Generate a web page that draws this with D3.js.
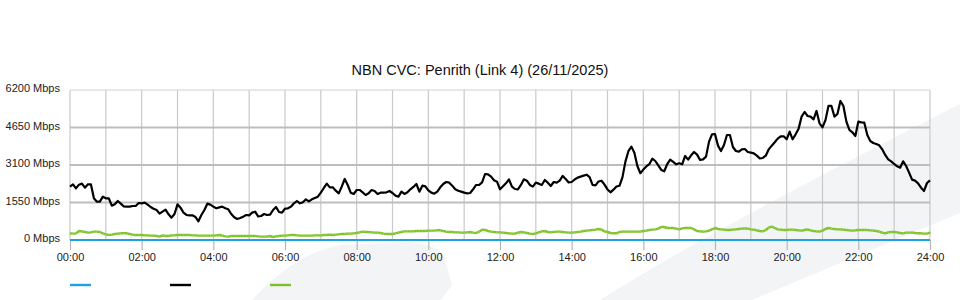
<!DOCTYPE html>
<html>
<head>
<meta charset="utf-8">
<script src="https://cdn.jsdelivr.net/npm/d3@7"></script>
<style>
  html, body { margin: 0; padding: 0; background: #fff; }
  svg { display: block; }
  text { font-family: "Liberation Sans", Arial, sans-serif; }
</style>
</head>
<body>
<svg id="chart" width="960" height="300"></svg>
<script>
// ---- Data (5-minute samples, 00:00 .. 24:00) ----
const title = "NBN CVC: Penrith (Link 4) (26/11/2025)";
const stepMinutes = 5;
const yTicks = [0, 1550, 3100, 4650, 6200];
const xTickLabels = ["00:00","02:00","04:00","06:00","08:00","10:00","12:00","14:00","16:00","18:00","20:00","22:00","24:00"];
const seriesNames = ["", "", ""];
const seriesColors = ["#1ea2e4", "#000000", "#7dc12a"];

const blackSeries = [
  2205,2301,2136,2287,2329,2163,2301,2301,1723,1585,
  1585,1791,1723,1723,1419,1474,1612,1502,1392,1378,
  1378,1406,1406,1530,1516,1543,1461,1364,1295,1240,
  1089,1171,1254,1061,923,1075,1474,1337,1130,1034,
  1020,1020,951,772,1034,1240,1502,1461,1378,1309,
  1350,1378,1309,1268,1075,937,868,909,965,1034,
  1020,1130,1171,978,992,1075,1034,1047,1240,1364,
  1158,1130,1295,1309,1378,1516,1612,1516,1557,1681,
  1598,1681,1736,1791,1957,2150,2329,2177,2177,2039,
  1929,2205,2522,2274,1957,1902,2067,2067,1971,1860,
  1929,2067,2026,1902,
  1957,1957,1971,2026,1943,1833,
  1791,1998,1902,1971,2095,2191,2315,1998,2246,2219,
  2053,1957,1915,1998,2177,2315,2398,2370,2246,2095,
  2039,1998,1957,1929,1943,2095,2274,2274,2384,2728,
  2715,2618,2467,2412,2095,2219,2343,2508,2205,2108,
  2095,2274,2508,2453,2274,2205,2370,2329,2274,2480,
  2370,2232,2398,2370,2453,
  2650,2520,2380,2398,2500,
  2580,2620,2660,2700,2600,2280,2260,2420,2450,2290,
  2090,1971,2080,2210,2240,2590,3240,3670,3860,3610,
  3060,2760,2910,3040,3135,3362,3265,3080,2895,2840,
  3135,3321,3225,3130,3170,3128,3473,3321,3500,3638,
  3528,3307,3335,3445,4065,4368,4382,3900,3679,3927,
  4341,4341,3845,3679,3652,3748,3762,3638,3610,3583,
  3486,3376,3390,3486,3748,3900,4038,4189,4286,4286,
  4162,4479,4162,4368,4603,5099,5292,5126,5099,4988,
  5333,4823,4658,4961,5540,5540,5099,5209,5746,5540,
  4892,4547,4451,4299,4892,4864,4851,4341,4093,4010,
  3969,3914,3748,3514,3335,3252,3142,3045,2990,3252,
  3059,2784,2494,2453,2343,2163,2026,2356,2467
];

const greenSeries = [
  276,262,276,372,358,331,303,317,345,345,
  331,276,234,207,220,248,262,276,276,276,
  248,220,207,207,207,193,193,179,179,165,
  138,193,165,165,193,193,207,207,207,207,
  207,193,193,179,179,179,179,179,179,193,
  207,179,152,138,165,165,165,165,165,165,
  165,165,165,152,138,138,138,165,124,152,
  165,179,179,193,207,207,193,
  179,179,179,179,179,193,193,193,207,207,
  220,207,220,234,248,248,262,262,276,289,
  317,345,331,331,317,303,303,289,262,248,
  248,248,276,303,331,358,358,358,358,372,
  372,372,372,386,386,386,400,400,372,345,
  331,331,317,317,303,303,317,331,303,289,
  345,427,414,372,345,331,317,317,303,289,
  276,262,262,303,331,317,289,262,248,276,
  317,358,372,331,317,331,345,345,331,317,
  303,303,317,331,345,372,386,400,414,427,
  455,427,358,331,289,276,276,
  331,345,345,345,345,345,345,345,372,386,
  414,427,441,469,537,537,496,496,496,469,
  441,482,496,496,496,441,372,358,345,358,
  386,441,496,455,441,427,414,414,427,441,
  455,469,482,469,441,427,400,372,358,414,
  510,551,496,441,427,414,414,427,427,414,
  400,386,414,441,400,372,358,345,386,455,
  496,469,455,441,441,427,414,400,386,400,
  414,414,414,414,400,386,372,345,303,276,
  317,331,331,317,289,276,303,303,303,289,
  276,276,262,262,303
];

// blue series is flat at zero (hourly samples)
const blueHourly = [0,0,0,0,0,0,0,0,0,0,0,0,0,0,0,0,0,0,0,0,0,0,0,0,0];

// ---- Layout ----
const svg = d3.select("#chart");
const W = 960, H = 300;
const plotLeft = 70, plotRight = 930, plotTop = 90, plotBottom = 240;

const x = d3.scaleLinear().domain([0, 1440]).range([plotLeft, plotRight]);
const y = d3.scaleLinear().domain([0, 6200]).range([plotBottom, plotTop]);

svg.append("rect").attr("width", W).attr("height", H).attr("fill", "#fff");

// background watermark swooshes
const bg = svg.append("g").attr("fill", "#f3f4f6");
bg.append("path").attr("d", "M600,300 Q700,236 960,104 L960,213 L752,300 Z");
bg.append("path").attr("d", "M252,300 C278,272 305,252 340,245 L404,242 Q436,243 444,256 L452,285 L441,300 Z");

// title
svg.append("text")
  .attr("x", 480).attr("y", 75)
  .attr("text-anchor", "middle")
  .attr("font-size", 14.5)
  .attr("fill", "#111")
  .text(title);

// vertical grid (hourly)
const hours = d3.range(0, 25);
svg.append("g").selectAll("line").data(hours).join("line")
  .attr("x1", h => x(h * 60)).attr("x2", h => x(h * 60))
  .attr("y1", plotTop).attr("y2", plotBottom)
  .attr("stroke", "#c9c9c9").attr("stroke-width", 1.2);

// horizontal grid
svg.append("g").selectAll("line").data(yTicks).join("line")
  .attr("x1", plotLeft).attr("x2", plotRight)
  .attr("y1", d => y(d)).attr("y2", d => y(d))
  .attr("stroke", d => d === 6200 ? "#d0d0d0" : "#bdbdbd")
  .attr("stroke-width", d => d === 6200 ? 1 : 2);

// x axis
const xAxis = d3.axisBottom(x)
  .tickValues(xTickLabels.map((_, i) => i * 120))
  .tickFormat((d, i) => xTickLabels[i])
  .tickSize(10).tickPadding(3);
const gx = svg.append("g").attr("transform", `translate(0,${plotBottom})`).call(xAxis);
gx.select(".domain").remove();
gx.selectAll(".tick line").attr("stroke", "#b5b5b5").attr("stroke-width", 1.2);
gx.selectAll(".tick text").attr("font-size", 11).attr("fill", "#222")
  .attr("font-family", "Liberation Sans, Arial, sans-serif");

// y axis
const yAxis = d3.axisLeft(y).tickValues(yTicks).tickFormat(d => d + " Mbps")
  .tickSize(0).tickPadding(10);
const gy = svg.append("g").attr("transform", `translate(${plotLeft},0)`).call(yAxis);
gy.select(".domain").remove();
gy.selectAll(".tick text").attr("font-size", 11).attr("fill", "#222").attr("dy", "0.16em")
  .attr("font-family", "Liberation Sans, Arial, sans-serif");

// lines
const line5 = d3.line().x((d, i) => x(i * stepMinutes)).y(d => y(d));
const lineHourly = d3.line().x((d, i) => x(i * 60)).y(d => y(d));

svg.append("path").datum(greenSeries).attr("d", line5)
  .attr("fill", "none").attr("stroke", seriesColors[2]).attr("stroke-width", 2.4)
  .attr("stroke-linejoin", "round");
svg.append("g").selectAll("circle").data(greenSeries).join("circle")
  .attr("cx", (d, i) => x(i * stepMinutes)).attr("cy", d => y(d)).attr("r", 0.8)
  .attr("fill", "#9ad24f");

svg.append("path").datum(blueHourly).attr("d", lineHourly)
  .attr("fill", "none").attr("stroke", seriesColors[0]).attr("stroke-width", 2.2);

svg.append("path").datum(blackSeries).attr("d", line5)
  .attr("fill", "none").attr("stroke", seriesColors[1]).attr("stroke-width", 2.2)
  .attr("stroke-linejoin", "round");

// legend (swatches only, empty labels)
const lg = svg.append("g").selectAll("g").data(seriesNames).join("g")
  .attr("transform", (d, i) => `translate(${70 + i * 100},285)`);
lg.append("line").attr("x1", 0).attr("x2", 21).attr("y1", 0).attr("y2", 0)
  .attr("stroke", (d, i) => seriesColors[i]).attr("stroke-width", 2.4);
lg.append("text").attr("x", 26).attr("y", 4).attr("font-size", 11).text(d => d);
</script>
</body>
</html>
